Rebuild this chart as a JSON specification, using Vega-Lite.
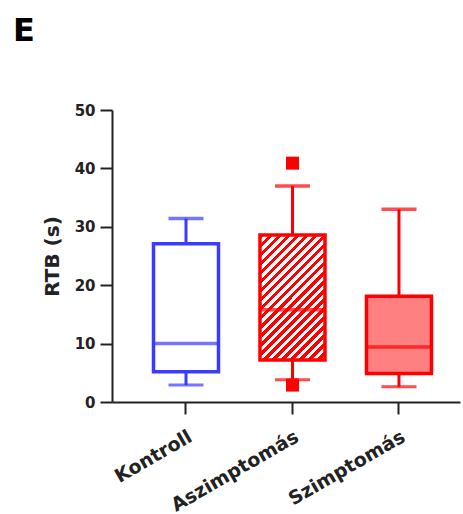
{
  "$schema": "https://vega.github.io/schema/vega-lite/v6.json",
  "autosize": "none",
  "padding": {"left": 112, "top": 110, "right": 3, "bottom": 112},
  "width": 348,
  "height": 292,
  "background": "white",
  "title": {"text": "E", "anchor": "start", "frame": "group", "font": "DejaVu Sans", "fontWeight": "bold", "fontSize": 32, "color": "#000", "dx": -99, "offset": 55},
  "datasets": {
    "boxes": [
      {"group": "Kontroll", "lo": 2.9, "q1": 5.2, "median": 10.0, "q3": 27.1, "hi": 31.4},
      {"group": "Aszimptomás", "lo": 3.8, "q1": 7.2, "median": 15.8, "q3": 28.6, "hi": 37.0},
      {"group": "Szimptomás", "lo": 2.6, "q1": 4.9, "median": 9.4, "q3": 18.1, "hi": 33.0}
    ],
    "outliers": [
      {"group": "Aszimptomás", "value": 40.9},
      {"group": "Aszimptomás", "value": 2.9}
    ]
  },
  "config": {
    "view": {"stroke": null},
    "axis": {"grid": false, "domainColor": "#222", "domainWidth": 2, "tickColor": "#222", "tickWidth": 2, "labelColor": "#222", "titleColor": "#222", "labelFont": "DejaVu Sans", "titleFont": "DejaVu Sans", "labelFontWeight": "bold", "titleFontWeight": "bold"}
  },
  "encoding": {
    "x": {"field": "group", "type": "nominal", "sort": ["Kontroll", "Aszimptomás", "Szimptomás"],
      "scale": {"domain": ["Kontroll", "Aszimptomás", "Szimptomás"], "paddingInner": 0.36, "paddingOuter": 0.314, "align": 0.597},
      "axis": {"title": null, "labelAngle": -30, "labelAlign": "right", "labelBaseline": "top", "labelFontSize": 19, "tickSize": 12, "labelPadding": 13}}
  },
  "layer": [
    {
      "data": {"name": "boxes"},
      "mark": {"type": "rule", "strokeWidth": 3},
      "encoding": {
        "y": {"field": "lo", "type": "quantitative", "scale": {"domain": [0, 50], "nice": false},
          "axis": {"title": "RTB (s)", "values": [0, 10, 20, 30, 40, 50], "labelFontSize": 15, "titleFontSize": 20, "tickSize": 12, "labelPadding": 5, "titlePadding": 12}},
        "y2": {"field": "hi"},
        "color": {"field": "group", "type": "nominal", "scale": {"domain": ["Kontroll", "Aszimptomás", "Szimptomás"], "range": ["#3b3bff", "#ff0000", "#ff0000"]}, "legend": null}
      }
    },
    {
      "data": {"name": "outliers"},
      "mark": {"type": "point", "shape": "square", "filled": true, "size": 169, "opacity": 1},
      "encoding": {
        "y": {"field": "value", "type": "quantitative"},
        "color": {"field": "group", "type": "nominal", "legend": null}
      }
    },
    {
      "data": {"name": "boxes"},
      "mark": {"type": "tick", "size": 35, "thickness": 3},
      "encoding": {
        "y": {"field": "lo", "type": "quantitative"},
        "color": {"field": "group", "type": "nominal", "legend": null}
      }
    },
    {
      "data": {"name": "boxes"},
      "mark": {"type": "tick", "size": 35, "thickness": 3.5},
      "encoding": {
        "y": {"field": "hi", "type": "quantitative"},
        "color": {"field": "group", "type": "nominal", "legend": null}
      }
    },
    {
      "data": {"name": "boxes"},
      "mark": {"type": "bar", "size": 65, "strokeWidth": 3.5},
      "encoding": {
        "y": {"field": "q1", "type": "quantitative"},
        "y2": {"field": "q3"},
        "stroke": {"field": "group", "type": "nominal", "scale": {"domain": ["Kontroll", "Aszimptomás", "Szimptomás"], "range": ["#3b3bff", "#ff0000", "#ff0000"]}, "legend": null},
        "fill": {
          "condition": [
            {"test": "datum.group === 'Kontroll'", "value": "#ffffff"},
            {"test": "datum.group === 'Aszimptomás'", "value": {"gradient": "linear", "x1": 0, "y1": 0, "x2": 0.623, "y2": 1.197, "stops": [
              {"offset": 0, "color": "#ff0000"}, {"offset": 0.02381, "color": "#ff0000"},
              {"offset": 0.02381, "color": "#ffffff"}, {"offset": 0.04762, "color": "#ffffff"},
              {"offset": 0.04762, "color": "#ff0000"}, {"offset": 0.07143, "color": "#ff0000"},
              {"offset": 0.07143, "color": "#ffffff"}, {"offset": 0.09524, "color": "#ffffff"},
              {"offset": 0.09524, "color": "#ff0000"}, {"offset": 0.11905, "color": "#ff0000"},
              {"offset": 0.11905, "color": "#ffffff"}, {"offset": 0.14286, "color": "#ffffff"},
              {"offset": 0.14286, "color": "#ff0000"}, {"offset": 0.16667, "color": "#ff0000"},
              {"offset": 0.16667, "color": "#ffffff"}, {"offset": 0.19048, "color": "#ffffff"},
              {"offset": 0.19048, "color": "#ff0000"}, {"offset": 0.21429, "color": "#ff0000"},
              {"offset": 0.21429, "color": "#ffffff"}, {"offset": 0.2381, "color": "#ffffff"},
              {"offset": 0.2381, "color": "#ff0000"}, {"offset": 0.2619, "color": "#ff0000"},
              {"offset": 0.2619, "color": "#ffffff"}, {"offset": 0.28571, "color": "#ffffff"},
              {"offset": 0.28571, "color": "#ff0000"}, {"offset": 0.30952, "color": "#ff0000"},
              {"offset": 0.30952, "color": "#ffffff"}, {"offset": 0.33333, "color": "#ffffff"},
              {"offset": 0.33333, "color": "#ff0000"}, {"offset": 0.35714, "color": "#ff0000"},
              {"offset": 0.35714, "color": "#ffffff"}, {"offset": 0.38095, "color": "#ffffff"},
              {"offset": 0.38095, "color": "#ff0000"}, {"offset": 0.40476, "color": "#ff0000"},
              {"offset": 0.40476, "color": "#ffffff"}, {"offset": 0.42857, "color": "#ffffff"},
              {"offset": 0.42857, "color": "#ff0000"}, {"offset": 0.45238, "color": "#ff0000"},
              {"offset": 0.45238, "color": "#ffffff"}, {"offset": 0.47619, "color": "#ffffff"},
              {"offset": 0.47619, "color": "#ff0000"}, {"offset": 0.5, "color": "#ff0000"},
              {"offset": 0.5, "color": "#ffffff"}, {"offset": 0.52381, "color": "#ffffff"},
              {"offset": 0.52381, "color": "#ff0000"}, {"offset": 0.54762, "color": "#ff0000"},
              {"offset": 0.54762, "color": "#ffffff"}, {"offset": 0.57143, "color": "#ffffff"},
              {"offset": 0.57143, "color": "#ff0000"}, {"offset": 0.59524, "color": "#ff0000"},
              {"offset": 0.59524, "color": "#ffffff"}, {"offset": 0.61905, "color": "#ffffff"},
              {"offset": 0.61905, "color": "#ff0000"}, {"offset": 0.64286, "color": "#ff0000"},
              {"offset": 0.64286, "color": "#ffffff"}, {"offset": 0.66667, "color": "#ffffff"},
              {"offset": 0.66667, "color": "#ff0000"}, {"offset": 0.69048, "color": "#ff0000"},
              {"offset": 0.69048, "color": "#ffffff"}, {"offset": 0.71429, "color": "#ffffff"},
              {"offset": 0.71429, "color": "#ff0000"}, {"offset": 0.7381, "color": "#ff0000"},
              {"offset": 0.7381, "color": "#ffffff"}, {"offset": 0.7619, "color": "#ffffff"},
              {"offset": 0.7619, "color": "#ff0000"}, {"offset": 0.78571, "color": "#ff0000"},
              {"offset": 0.78571, "color": "#ffffff"}, {"offset": 0.80952, "color": "#ffffff"},
              {"offset": 0.80952, "color": "#ff0000"}, {"offset": 0.83333, "color": "#ff0000"},
              {"offset": 0.83333, "color": "#ffffff"}, {"offset": 0.85714, "color": "#ffffff"},
              {"offset": 0.85714, "color": "#ff0000"}, {"offset": 0.88095, "color": "#ff0000"},
              {"offset": 0.88095, "color": "#ffffff"}, {"offset": 0.90476, "color": "#ffffff"},
              {"offset": 0.90476, "color": "#ff0000"}, {"offset": 0.92857, "color": "#ff0000"},
              {"offset": 0.92857, "color": "#ffffff"}, {"offset": 0.95238, "color": "#ffffff"},
              {"offset": 0.95238, "color": "#ff0000"}, {"offset": 0.97619, "color": "#ff0000"},
              {"offset": 0.97619, "color": "#ffffff"}, {"offset": 1, "color": "#ffffff"}
            ]}}
          ],
          "value": "#ff8080"
        }
      }
    },
    {
      "data": {"name": "boxes"},
      "mark": {"type": "tick", "size": 65, "thickness": 3.5},
      "encoding": {
        "y": {"field": "median", "type": "quantitative"},
        "color": {"field": "group", "type": "nominal", "legend": null}
      }
    }
  ]
}
